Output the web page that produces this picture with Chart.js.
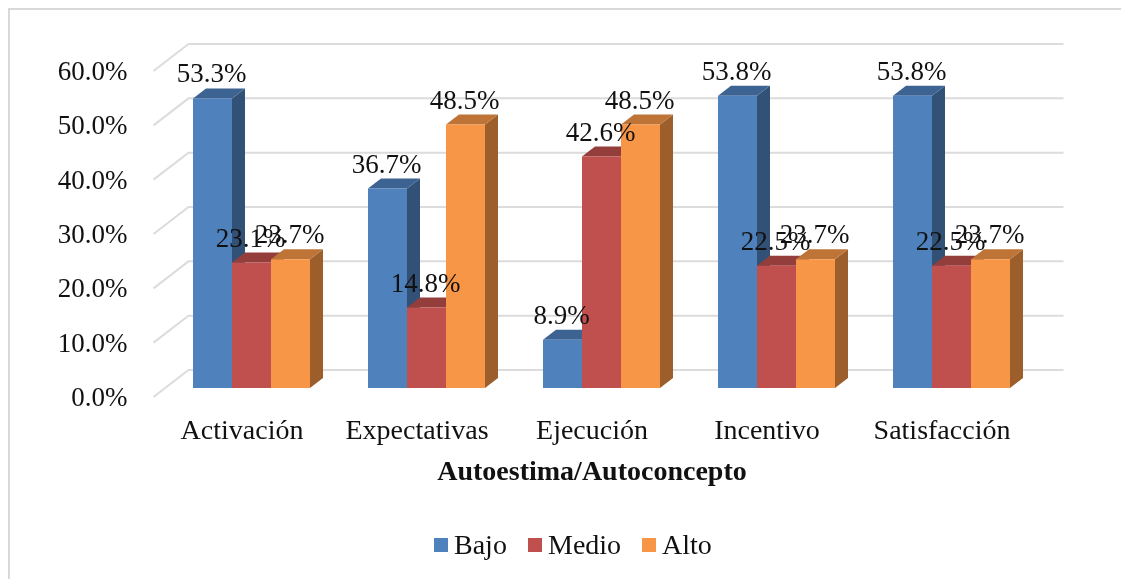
<!DOCTYPE html>
<html>
<head>
<meta charset="utf-8">
<style>
    html, body { margin: 0; padding: 0; background: #fff; }
    canvas { display: block; }
</style>
<script src="https://cdn.jsdelivr.net/npm/chart.js@4/dist/chart.umd.min.js"></script>
</head>
<body>
<canvas id="autoestimaChart" width="1121" height="579"></canvas>
<script>
const categories = ["Activación", "Expectativas", "Ejecución", "Incentivo", "Satisfacción"];
const bajo = [53.3, 36.7, 8.9, 53.8, 53.8];
const medio = [23.1, 14.8, 42.6, 22.5, 22.5];
const alto = [23.7, 48.5, 48.5, 23.7, 23.7];

const fontFamily = '"Liberation Serif", "Times New Roman", serif';
const numberSize = 27;
const textSize = 28;
const gridColor = '#dcdcdc';

// fake 3D: bars sit a little behind the front plane, each has a depth, walls go further back
const barShift = { x: 9.5, y: -9 };
const barDepth = { x: 13, y: -10 };
const wall = { x: 34, y: -27 };

function shade(hex, k) {
    const n = parseInt(hex.slice(1), 16);
    const r = Math.round((n >> 16) * k);
    const g = Math.round(((n >> 8) & 255) * k);
    const b = Math.round((n & 255) * k);
    return `rgb(${r},${g},${b})`;
}

function poly(ctx, pts, color) {
    ctx.fillStyle = color;
    ctx.beginPath();
    pts.forEach((p, i) => i ? ctx.lineTo(p[0], p[1]) : ctx.moveTo(p[0], p[1]));
    ctx.closePath();
    ctx.fill();
}

const chartFrame = {
    id: 'chartFrame',
    beforeDraw(chart) {
        const c = chart.ctx;
        c.save();
        c.strokeStyle = '#d9d9d9';
        c.lineWidth = 2;
        c.beginPath();
        c.moveTo(9, 579);
        c.lineTo(9, 9);
        c.lineTo(1121, 9);
        c.stroke();
        c.restore();
    }
};

// back wall and side wall lines, taken from the y scale
const wallGrid = {
    id: 'wallGrid',
    beforeDatasetsDraw(chart) {
        const c = chart.ctx;
        const y = chart.scales.y;
        const { left, right } = chart.chartArea;
        c.save();
        c.strokeStyle = gridColor;
        c.lineWidth = 2;
        y.ticks.forEach(t => {
            const py = y.getPixelForValue(t.value);
            c.beginPath();
            c.moveTo(left - 1, py);
            c.lineTo(left + wall.x, py + wall.y);
            c.lineTo(right + wall.x, py + wall.y);
            c.stroke();
        });
        c.restore();
    }
};

// Chart.js paints datasets last to first, so the top and side faces go down first,
// in series order, and the shifted front faces land on them
const bars3d = {
    id: 'bars3d',
    beforeDatasetsDraw(chart) {
        const c = chart.ctx;
        c.save();
        c.translate(barShift.x, barShift.y);
        chart.data.datasets.forEach((ds, i) => {
            chart.getDatasetMeta(i).data.forEach(bar => {
                const { x, y, base, width } = bar.getProps(['x', 'y', 'base', 'width'], true);
                const l = x - width / 2;
                const r = x + width / 2;
                const dx = barDepth.x;
                const dy = barDepth.y;
                poly(c, [[r, y], [r + dx, y + dy], [r + dx, base + dy], [r, base]], shade(ds.backgroundColor, 0.63));
                poly(c, [[l, y], [l + dx, y + dy], [r + dx, y + dy], [r, y]], shade(ds.backgroundColor, 0.77));
            });
        });
    },
    afterDatasetsDraw(chart) {
        chart.ctx.restore();
    }
};

const valueLabels = {
    id: 'valueLabels',
    afterDatasetsDraw(chart) {
        const c = chart.ctx;
        c.save();
        c.font = `${numberSize}px ${fontFamily}`;
        c.fillStyle = '#111';
        c.textAlign = 'center';
        c.textBaseline = 'middle';
        chart.data.datasets.forEach((ds, i) => {
            chart.getDatasetMeta(i).data.forEach((bar, j) => {
                const text = ds.data[j].toFixed(1) + '%';
                c.fillText(text, bar.x + barShift.x - 1, bar.y + barShift.y - 23);
            });
        });
        c.restore();
    }
};

// legend squares sit closer to their text than the built-in legend allows
const tightLegend = {
    id: 'tightLegend',
    afterDraw(chart) {
        const c = chart.ctx;
        const starts = [434, 528, 642];
        c.save();
        c.font = `${textSize}px ${fontFamily}`;
        c.textBaseline = 'middle';
        c.textAlign = 'left';
        chart.data.datasets.forEach((ds, i) => {
            c.fillStyle = ds.backgroundColor;
            c.fillRect(starts[i], 538, 14, 14);
            c.fillStyle = '#111';
            c.fillText(ds.label, starts[i] + 20, 547);
        });
        c.restore();
    }
};

const data = {
    labels: categories,
    datasets: [
        { label: 'Bajo', data: bajo, backgroundColor: '#4f81bd' },
        { label: 'Medio', data: medio, backgroundColor: '#c0504d' },
        { label: 'Alto', data: alto, backgroundColor: '#f79646' }
    ]
};

const config = {
    type: 'bar',
    data: data,
    plugins: [chartFrame, wallGrid, bars3d, valueLabels, tightLegend],
    options: {
        responsive: false,
        animation: false,
        events: [],
        layout: { padding: { top: 71, right: 91.5, bottom: 89, left: 0 } },
        datasets: {
            bar: { categoryPercentage: 117 / 175, barPercentage: 1 }
        },
        scales: {
            x: {
                afterFit(scale) { scale.height = 93; },
                grid: { display: false },
                border: { display: false },
                ticks: {
                    color: '#111',
                    padding: 10,
                    maxRotation: 0,
                    autoSkip: false,
                    font: { family: fontFamily, size: textSize }
                },
                title: {
                    display: true,
                    text: 'Autoestima/Autoconcepto',
                    color: '#111',
                    padding: 0,
                    font: { family: fontFamily, size: textSize, weight: 'bold' }
                }
            },
            y: {
                min: 0,
                max: 60,
                afterFit(scale) { scale.width = 154.5; },
                grid: { display: false },
                border: { display: false },
                ticks: {
                    stepSize: 10,
                    color: '#111',
                    padding: 19,
                    labelOffset: 2,
                    font: { family: fontFamily, size: numberSize },
                    callback: v => v.toFixed(1) + '%'
                }
            }
        },
        plugins: {
            legend: { display: false },
            tooltip: { enabled: false }
        }
    }
};

const autoestimaChart = new Chart(document.getElementById('autoestimaChart'), config);
</script>
</body>
</html>
